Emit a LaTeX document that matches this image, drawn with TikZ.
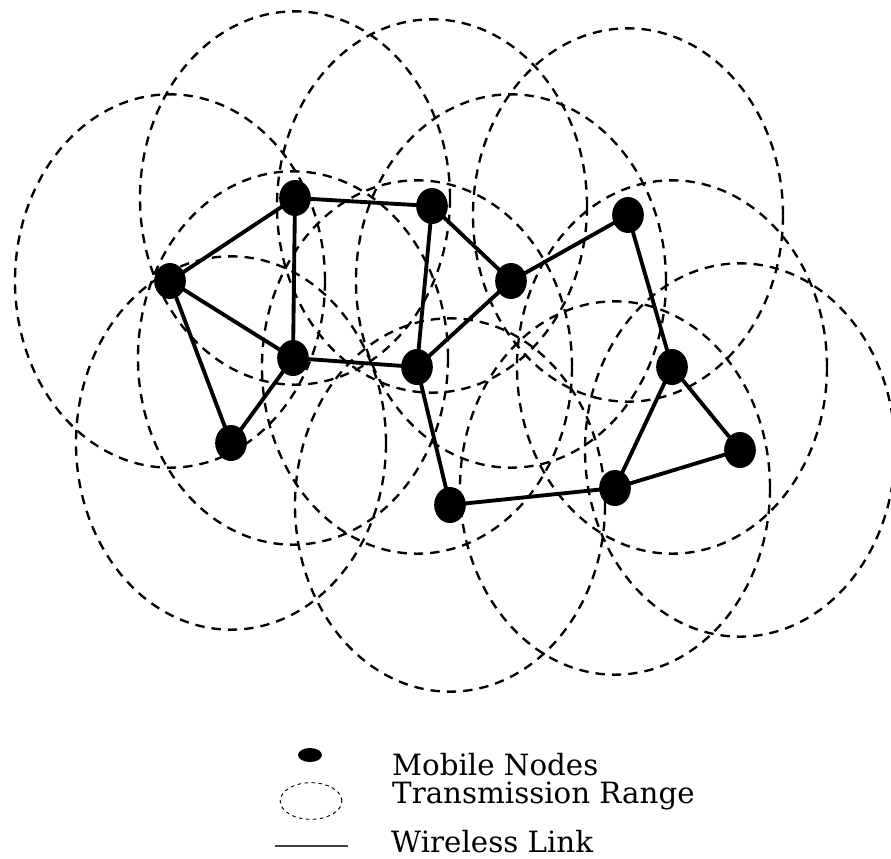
\documentclass[tikz,border=0pt]{standalone}
\usepackage{fontspec}
\usepackage{tikz}
\usetikzlibrary{shapes.geometric}
\setmainfont{DejaVu Serif}
\tikzset{mobile/.style={ellipse,fill=black,inner sep=0pt,minimum width=0.95cm,minimum height=1.08cm},
 txrange/.style={dashed,line width=2pt,dash pattern=on 8pt off 6pt},
 link/.style={line width=3.3pt},
 legendtext/.style={anchor=base west,inner sep=0pt,font=\fontsize{25}{28}\selectfont}}

\begin{document}
\begin{tikzpicture}[x=0.03cm,y=-0.03cm]
\useasboundingbox (0,0) rectangle (891,858);
\foreach \id/\px/\py in {1/295/198,2/432/206,3/628/215,4/170/281,5/511/281,6/293/358,
 7/417/367,8/672/367,9/231/443,10/740/450,11/450/505,12/615/488} {
 \node[mobile] (n\id) at (\px,\py) {};
 \draw[txrange] (n\id.center) ellipse [x radius=4.65cm,y radius=5.6cm];
}
\foreach \a/\b in {4/1,1/2,1/6,4/6,4/9,9/6,6/7,2/7,2/5,5/7,5/3,3/8,8/10,8/12,12/10,12/11,11/7}
 \draw[link] (n\a.center) -- (n\b.center);
\node[ellipse,fill=black,inner sep=0pt,minimum width=0.72cm,minimum height=0.42cm] (lgnode) at (310,755) {};
\node[ellipse,draw,dashed,line width=0.8pt,dash pattern=on 3pt off 3pt,inner sep=0pt,
 minimum width=1.85cm,minimum height=1.1cm] (lgrange) at (311,801) {};
\coordinate (lgstart) at (275,846);
\coordinate (lgend) at (348,846);
\draw[line width=2.4pt,black!75] (lgstart) -- (lgend);
\node[legendtext] (tnode) at (392,775) {Mobile Nodes};
\node[legendtext] (trange) at (392,803) {Transmission Range};
\node[legendtext] (tlink) at (391,852) {Wireless Link};
\end{tikzpicture}
\end{document}
